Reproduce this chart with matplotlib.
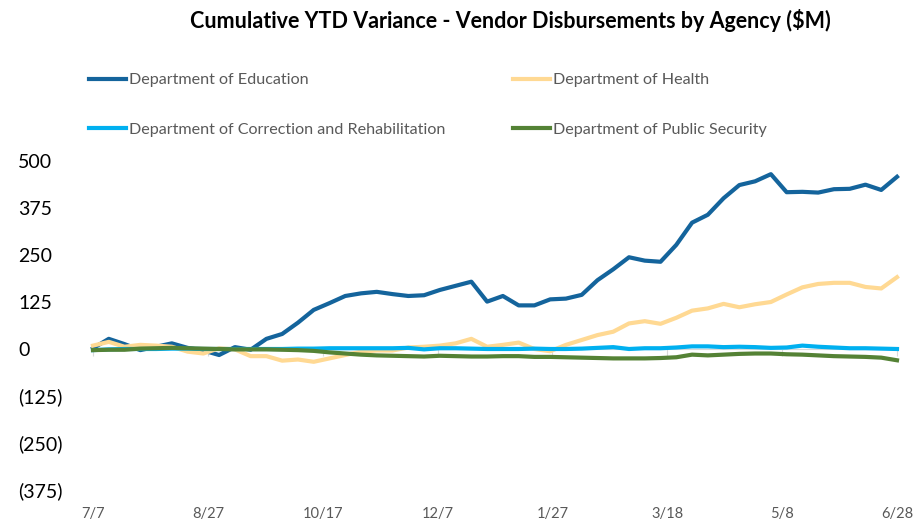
import numpy as np
import matplotlib
matplotlib.use('Agg')
import matplotlib.pyplot as plt

plt.rcParams['font.family'] = ['Lato', 'DejaVu Sans']

# weekly cumulative variance, $M, 7/7 .. 6/28
education = [2, 27, 13, -3, 6, 15, 3, -4, -16, 5, -2, 27, 40, 70, 104, 122, 141, 148, 152, 146,
             141, 143, 157, 168, 179, 126, 141, 116, 116, 132, 134, 144, 183, 212, 244, 235,
             232, 277, 336, 357, 401, 436, 446, 465, 417, 418, 416, 425, 426, 437, 423, 458]
health = [9, 19, 6, 11, 9, 6, -7, -12, 2, -1, -19, -19, -31, -28, -34, -25, -16, -7, -4, -4,
          4, 6, 9, 15, 27, 6, 11, 17, 0, -6, 11, 24, 37, 46, 68, 74, 67, 83, 102, 108,
          120, 111, 119, 125, 145, 164, 173, 176, 176, 165, 161, 191]
correction = [-3, -1, 0, 0, 0, 1, 1, 0, 0, 0, 0, 0, 0, 1, 1, 2, 2, 2, 2, 2,
              3, -1, 2, 2, 1, 0, 0, 0, 1, 0, 0, 1, 3, 5, 0, 2, 2, 4, 7, 7,
              5, 6, 5, 3, 4, 9, 6, 4, 2, 2, 1, 0]
public_security = [-3, -2, -2, 1, 2, 3, 2, 1, 0, -1, -1, -1, -2, -3, -5, -9, -12, -15, -17, -18,
                   -19, -20, -18, -19, -20, -20, -19, -19, -21, -21, -22, -23, -24, -25, -25, -25,
                   -24, -22, -15, -17, -15, -13, -12, -12, -14, -15, -17, -19, -20, -21, -23, -30]

days = np.arange(len(education)) * 7
tick_days = [0, 51, 102, 153, 204, 255, 306, 357]
tick_labels = ['7/7', '8/27', '10/17', '12/7', '1/27', '3/18', '5/8', '6/28']
y_ticks = [500, 375, 250, 125, 0, -125, -250, -375]
y_labels = ['500', '375', '250', '125', '0', '(125)', '(250)', '(375)']

series = [
    ('Department of Education', education, '#14649C'),
    ('Department of Health', health, '#FFD993'),
    ('Department of Correction and Rehabilitation', correction, '#00B0F0'),
    ('Department of Public Security', public_security, '#548235'),
]

fig = plt.figure(figsize=(9.18, 5.19), dpi=100)
ax = fig.add_axes([93/918, (519-490)/519, (897-93)/918, (490-161)/519])

lines = {}
for name, vals, col in series:
    lines[name], = ax.plot(days, vals, color=col, lw=3, clip_on=False, solid_joinstyle='round')

ax.set_xlim(0, 357)
ax.set_ylim(-375, 500)
for s in ax.spines.values():
    s.set_visible(False)

ax.set_yticks(y_ticks, labels=y_labels)
ax.tick_params(axis='y', length=0, pad=54, labelsize=14, labelcolor='#000000')
for lab in ax.get_yticklabels():
    lab.set_horizontalalignment('left')

ax.set_xticks(tick_days, labels=tick_labels)
ax.tick_params(axis='x', length=0, pad=12, labelsize=10.5, labelcolor='#595959')

# axis through zero with small tick marks
sec = ax.secondary_xaxis(375/875)
sec.set_xticks(tick_days, labels=[])
sec.spines['bottom'].set_color('#D9D9D9')
sec.tick_params(axis='x', length=5, color='#D9D9D9')
ax.set_zorder(1)

order = ['Department of Education', 'Department of Correction and Rehabilitation',
         'Department of Health', 'Department of Public Security']
fig.legend([lines[n] for n in order], order, loc='upper left', bbox_to_anchor=(89/918, 1 - 73/519),
           ncol=2, frameon=False, fontsize=11.6, labelcolor='#595959', handlelength=2.3,
           handletextpad=0.2, columnspacing=4.15, labelspacing=2.2, borderaxespad=0, borderpad=0)

fig.text(510/918, 1 - 20/519, 'Cumulative YTD Variance - Vendor Disbursements by Agency ($M)',
         ha='center', va='center', fontsize=15.5, fontweight='bold')

fig.savefig('out.png', dpi=100)
